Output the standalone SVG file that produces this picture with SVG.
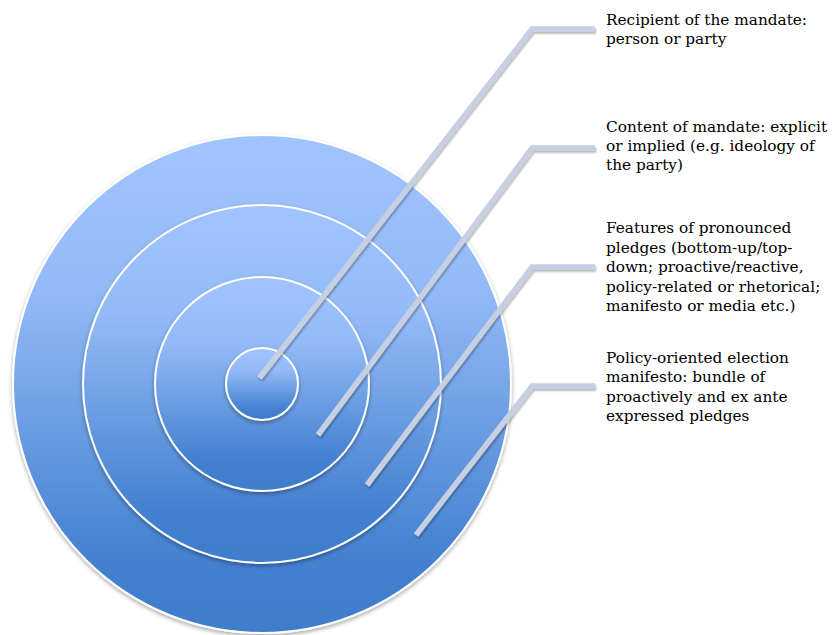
<svg xmlns="http://www.w3.org/2000/svg" width="834" height="635" viewBox="0 0 834 635">
  <style>
    .ring { stroke: #ffffff; stroke-width: 2; filter: url(#shadow); }
    .conn { fill: none; stroke: #c6d0e2; stroke-width: 5.5; stroke-linejoin: miter; stroke-linecap: butt; filter: url(#lshadow); }
    .lbl { font-family: "DejaVu Serif", "Liberation Serif", serif; font-size: 15.3px; fill: #000000; }
  </style>
  <defs>
    <linearGradient id="g" x1="0" y1="0" x2="0" y2="1">
      <stop offset="0" stop-color="#a0c4fe"/>
      <stop offset="0.3" stop-color="#94bbf7"/>
      <stop offset="0.85" stop-color="#4481d0"/>
      <stop offset="1" stop-color="#3e7dcb"/>
    </linearGradient>
    <filter id="shadow" x="-10%" y="-10%" width="120%" height="125%">
      <feGaussianBlur in="SourceAlpha" stdDeviation="2"/>
      <feOffset dx="0" dy="2" result="b"/>
      <feComponentTransfer><feFuncA type="linear" slope="0.35"/></feComponentTransfer>
      <feMerge><feMergeNode/><feMergeNode in="SourceGraphic"/></feMerge>
    </filter>
    <filter id="lshadow" x="-10%" y="-10%" width="120%" height="120%">
      <feGaussianBlur in="SourceAlpha" stdDeviation="1"/>
      <feOffset dx="1" dy="1.5" result="b"/>
      <feComponentTransfer><feFuncA type="linear" slope="0.3"/></feComponentTransfer>
      <feMerge><feMergeNode/><feMergeNode in="SourceGraphic"/></feMerge>
    </filter>
  </defs>

  <g id="ring-outer"><circle class="ring" cx="262" cy="384" r="249" fill="url(#g)"/></g>
  <g id="ring-2"><circle class="ring" cx="262" cy="384" r="179" fill="url(#g)"/></g>
  <g id="ring-3"><circle class="ring" cx="262" cy="384" r="107" fill="url(#g)"/></g>
  <g id="ring-inner"><circle class="ring" cx="262" cy="384" r="36" fill="url(#g)"/></g>

  <g id="connectors">
    <polyline class="conn" points="259.5,378 532,29 595,29"/>
    <polyline class="conn" points="318,435 532,148 595,148"/>
    <polyline class="conn" points="367,485 532,267 595,267"/>
    <polyline class="conn" points="416,535 532,386 595,386"/>
  </g>

  <g id="label-recipient">
    <text class="lbl" x="606" y="25">Recipient of the mandate:</text>
    <text class="lbl" x="606" y="44">person or party</text>
  </g>
  <g id="label-content">
    <text class="lbl" x="606" y="132">Content of mandate: explicit</text>
    <text class="lbl" x="606" y="151">or implied (e.g. ideology of</text>
    <text class="lbl" x="606" y="170">the party)</text>
  </g>
  <g id="label-features">
    <text class="lbl" x="606" y="233">Features of pronounced</text>
    <text class="lbl" x="606" y="252.5">pledges (bottom-up/top-</text>
    <text class="lbl" x="606" y="272">down; proactive/reactive,</text>
    <text class="lbl" x="606" y="291.5">policy-related or rhetorical;</text>
    <text class="lbl" x="606" y="311">manifesto or media etc.)</text>
  </g>
  <g id="label-manifesto">
    <text class="lbl" x="606" y="362.5">Policy-oriented election</text>
    <text class="lbl" x="606" y="382">manifesto: bundle of</text>
    <text class="lbl" x="606" y="401.5">proactively and ex ante</text>
    <text class="lbl" x="606" y="421">expressed pledges</text>
  </g>
</svg>
